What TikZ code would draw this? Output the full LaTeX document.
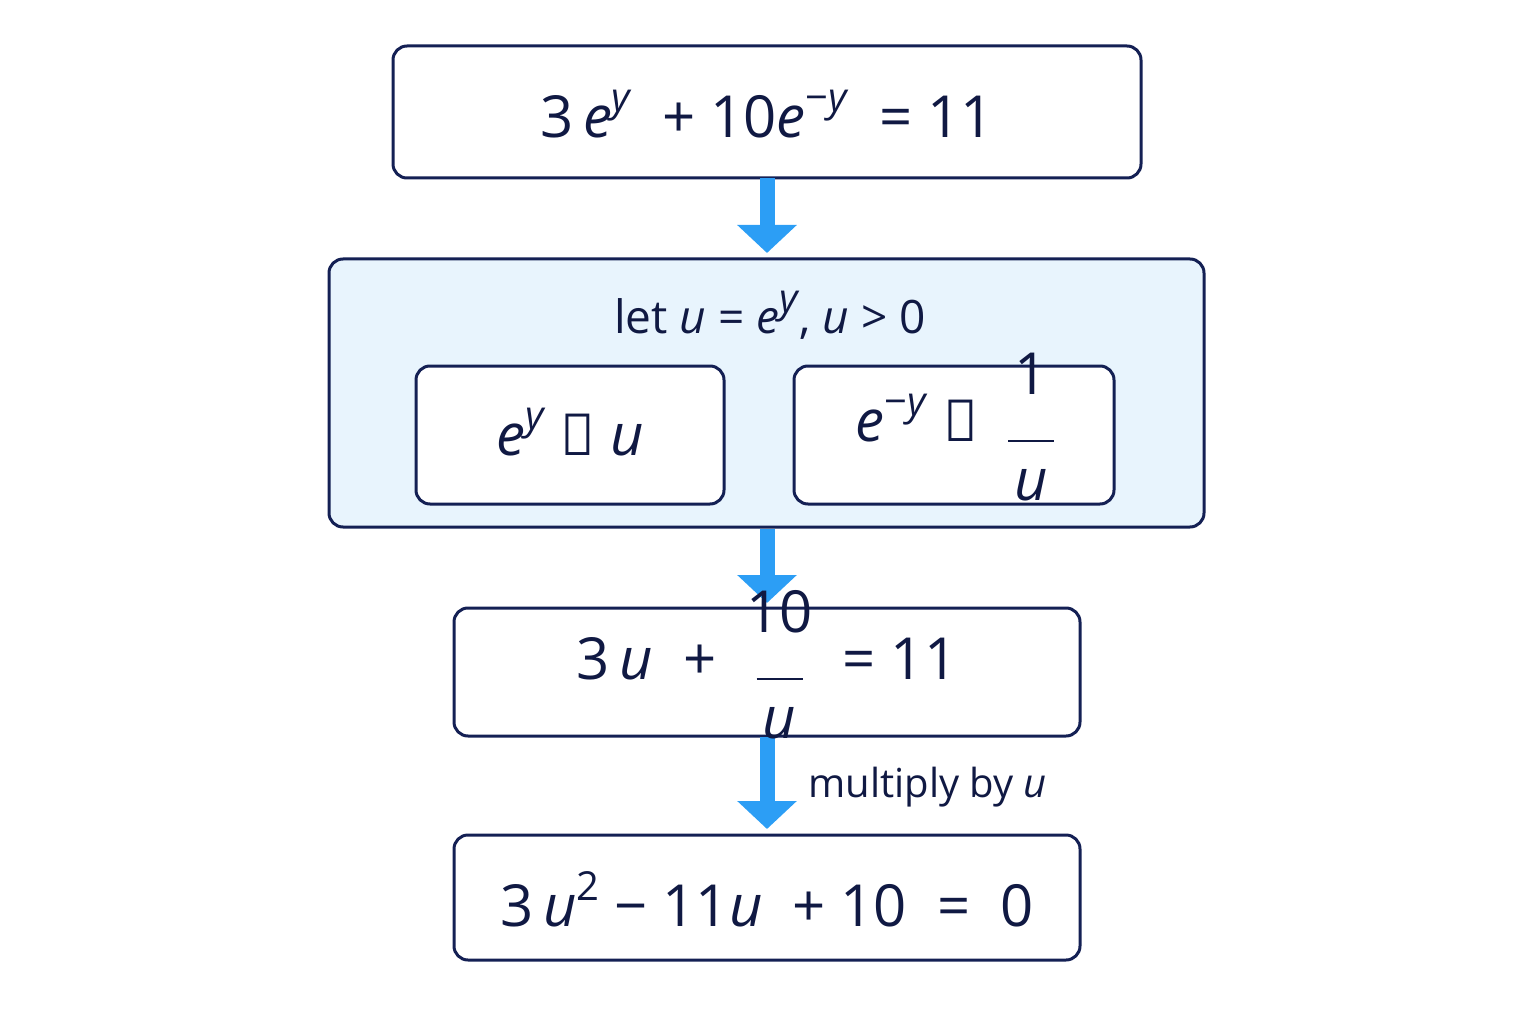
\documentclass[tikz,border=0pt]{standalone}
\usepackage{fontspec}
\setmainfont{Open Sans}
\usetikzlibrary{arrows.meta,positioning}
\definecolor{navy}{RGB}{20,32,84}
\definecolor{pale}{RGB}{232,244,253}
\definecolor{arrowblue}{RGB}{44,158,245}
\newcommand{\vi}[1]{\textit{#1}}
\newcommand{\sups}[1]{\raisebox{0.45em}{\fontsize{40}{44}\selectfont #1}}
\newcommand{\fracbox}[2]{\begin{tabular}{@{}c@{}}#1\\[-14pt]\rule{46pt}{2pt}\\[-4pt]#2\end{tabular}}

\tikzset{every picture/.style={line width=0.75pt}}
\tikzset{
  eqbox/.style={draw=navy, line width=3pt, rounded corners=14pt, fill=white},
  eqtext/.style={font=\fontsize{58}{62}\selectfont, text=navy!80!black, inner sep=0pt},
  steparrow/.style={draw=arrowblue, line width=15pt, -{Triangle[width=58pt,length=28pt]}}
}

\begin{document}
\begin{tikzpicture}[x=1pt,y=1pt,yscale=-1,xscale=1]
\useasboundingbox (0,0) rectangle (1536,1024);

%Boxes
\draw [eqbox] (393,46) rectangle (1141,178);
\draw [eqbox, fill=pale] (329,259) rectangle (1204,527);
\draw [eqbox] (416,366) rectangle (724,504);
\draw [eqbox] (794,366) rectangle (1114,504);
\draw [eqbox] (454,608) rectangle (1080,736);
\draw [eqbox] (454,835) rectangle (1080,960);

%Arrows
\coordinate (a1) at (767,178);
\coordinate (b1) at (767,253);
\coordinate (a2) at (767,529);
\coordinate (b2) at (767,603);
\coordinate (a3) at (767,737);
\coordinate (b3) at (767,829);
\draw [steparrow] (a1) -- (b1);
\draw [steparrow] (a2) -- (b2);
\draw [steparrow] (a3) -- (b3);

% Text Node
\node (eqone) [eqtext] at (767,114) {3\,\vi{e}\sups{\vi{y}} \ + 10\vi{e}\sups{−\vi{y}} \ = 11};
% Text Node
\node (letu) [eqtext, font=\fontsize{46}{50}\selectfont] at (770,315) {let \vi{u} = \vi{e}\sups{\vi{y}}, \vi{u} > 0};
% Text Node
\node (subone) [eqtext] at (570,432) {\vi{e}\sups{\vi{y}} → \vi{u}};
% Text Node
\node (subtwo) [eqtext] at (955,435) {\vi{e}\sups{−\vi{y}} → \ \fracbox{1}{\vi{u}}};
% Text Node
\node (eqtwo) [eqtext] at (767,673) {3\,\vi{u} \ + \ \fracbox{10}{\vi{u}} \ = 11};
% Text Node
\node (mult) [eqtext, font=\fontsize{40}{44}\selectfont, anchor=west] at (808,787) {multiply by \vi{u}};
% Text Node
\node (eqthree) [eqtext] at (767,899) {3\,\vi{u}\sups{2} − 11\vi{u} \ + 10 \ = \ 0};
\end{tikzpicture}
\end{document}
